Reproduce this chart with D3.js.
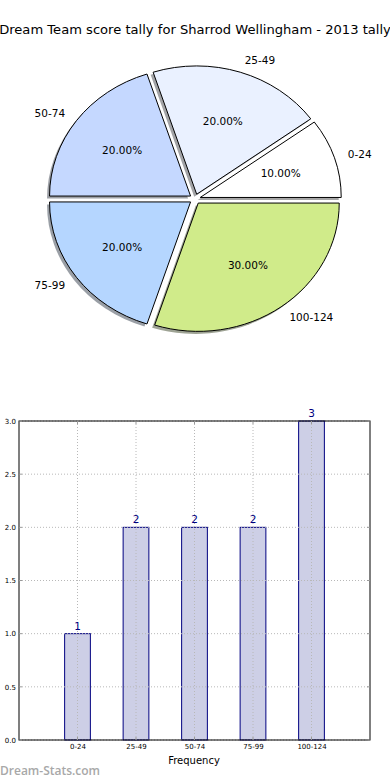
<!DOCTYPE html>
<html>
<head>
<meta charset="utf-8">
<script src="https://cdn.jsdelivr.net/npm/d3@7"></script>
<style>
html,body{margin:0;padding:0;background:#fff;}
svg{display:block;font-family:"DejaVu Sans",sans-serif;}
</style>
</head>
<body>
<svg id="c" width="390" height="780"></svg>
<script>
const categories = ["0-24","25-49","50-74","75-99","100-124"];
const counts = [1,2,2,2,3];
const pieColors = ["#ffffff","#eaf1ff","#c5d8ff","#b5d6ff","#d0eb8a"];
const yTicks = [0,0.5,1,1.5,2,2.5,3];
const titleText = "Dream Team score tally for Sharrod Wellingham - 2013 tally";

const svg = d3.select("#c");

svg.append("text").attr("x",195).attr("y",34).attr("text-anchor","middle")
  .attr("font-size",13.1).attr("fill","#000").text(titleText);

// ---- Pie ----
const cx = 195, cy = 199, R = 141, sy = 0.91, ex = 5.5;
const total = d3.sum(counts);
let cum = 0;
const wedges = counts.map((v,i)=>{
  const t1 = cum/total*2*Math.PI; cum += v; const t2 = cum/total*2*Math.PI;
  return {i, v, t1, t2, tm:(t1+t2)/2};
});
const arc = d3.arc().innerRadius(0).outerRadius(R);
const pg = svg.append("g").attr("transform",`translate(${cx},${cy}) scale(1,${sy})`);
// shadows
wedges.forEach(w=>{
  const dx = ex*Math.cos(w.tm), dy = -ex*Math.sin(w.tm);
  const c = d3.rgb(pieColors[w.i]);
  pg.append("path")
    .attr("d", arc({startAngle:Math.PI/2-w.t2, endAngle:Math.PI/2-w.t1}))
    .attr("transform",`translate(${dx-2.5},${dy+2.8})`)
    .attr("fill", d3.rgb(c.r*0.3,c.g*0.3,c.b*0.3)).attr("fill-opacity",0.5);
});
wedges.forEach(w=>{
  const dx = ex*Math.cos(w.tm), dy = -ex*Math.sin(w.tm);
  pg.append("path")
    .attr("d", arc({startAngle:Math.PI/2-w.t2, endAngle:Math.PI/2-w.t1}))
    .attr("transform",`translate(${dx},${dy})`)
    .attr("fill", pieColors[w.i]).attr("stroke","#000").attr("stroke-width",1)
    .attr("vector-effect","non-scaling-stroke");
});
// labels
wedges.forEach(w=>{
  const dx = ex*Math.cos(w.tm), dy = -ex*Math.sin(w.tm);
  const lx = cx + dx + 1.1*R*Math.cos(w.tm);
  const ly = cy + (dy - 1.1*R*Math.sin(w.tm))*sy;
  svg.append("text").attr("x",lx).attr("y",ly).attr("dy","0.35em")
    .attr("text-anchor", Math.cos(w.tm)>0 ? "start":"end")
    .attr("font-size",10.5).attr("fill","#000").text(categories[w.i]);
  const px = cx + dx + 0.6*R*Math.cos(w.tm);
  const py = cy + (dy - 0.6*R*Math.sin(w.tm))*sy;
  svg.append("text").attr("x",px).attr("y",py).attr("dy","0.35em")
    .attr("text-anchor","middle").attr("font-size",10.5).attr("fill","#000")
    .text((w.v/total*100).toFixed(2)+"%");
});

// ---- Bar chart ----
const L=19, Rr=370, T=421, B=740;
const x = d3.scaleLinear().domain([-1,5]).range([L,Rr]);
const y = d3.scaleLinear().domain([0,3]).range([B,T]);
const bw = x(0.44)-x(0);
const bg = svg.append("g");

// bars
bg.selectAll("rect.bar").data(counts).enter().append("rect")
  .attr("x",(d,i)=>x(i)-bw/2).attr("y",d=>y(d))
  .attr("width",bw).attr("height",d=>y(0)-y(d))
  .attr("fill","#cdcfe6").attr("stroke","#000080").attr("stroke-width",1);

// grid
yTicks.forEach(t=>{
  bg.append("line").attr("x1",L).attr("x2",Rr).attr("y1",y(t)).attr("y2",y(t))
    .attr("stroke","#b8b8b8").attr("stroke-width",1).attr("stroke-dasharray","1,2");
});
categories.forEach((c,i)=>{
  bg.append("line").attr("x1",x(i)).attr("x2",x(i)).attr("y1",T).attr("y2",B)
    .attr("stroke","#b8b8b8").attr("stroke-width",1).attr("stroke-dasharray","1,2");
});

// frame
bg.append("rect").attr("x",L).attr("y",T).attr("width",Rr-L).attr("height",B-T)
  .attr("fill","none").attr("stroke","#000").attr("stroke-width",1);

// ticks inside
yTicks.forEach(t=>{
  bg.append("line").attr("x1",L).attr("x2",L+3).attr("y1",y(t)).attr("y2",y(t)).attr("stroke","#999");
  bg.append("line").attr("x1",Rr-3).attr("x2",Rr).attr("y1",y(t)).attr("y2",y(t)).attr("stroke","#999");
});
categories.forEach((c,i)=>{
  bg.append("line").attr("x1",x(i)).attr("x2",x(i)).attr("y1",T).attr("y2",T+3).attr("stroke","#999");
  bg.append("line").attr("x1",x(i)).attr("x2",x(i)).attr("y1",B-3).attr("y2",B).attr("stroke","#999");
});

// axis labels via d3 axes
const ya = svg.append("g").attr("transform",`translate(${L},0)`)
  .call(d3.axisLeft(y).tickValues(yTicks).tickFormat(d3.format(".1f")).tickSize(0).tickPadding(3));
ya.select(".domain").remove();
ya.selectAll("text").attr("font-size",7).attr("font-family","DejaVu Sans").attr("fill","#000");

const xa = svg.append("g").attr("transform",`translate(0,${B})`)
  .call(d3.axisBottom(x).tickValues(d3.range(categories.length)).tickFormat(i=>categories[i]).tickSize(0).tickPadding(4));
xa.select(".domain").remove();
xa.selectAll("text").attr("font-size",7).attr("font-family","DejaVu Sans").attr("fill","#000");

// value labels
bg.selectAll("text.val").data(counts).enter().append("text")
  .attr("x",(d,i)=>x(i)).attr("y",d=>y(d)-4).attr("text-anchor","middle")
  .attr("font-size",10.5).attr("fill","#000080").text(d=>d);

svg.append("text").attr("x",194).attr("y",764).attr("text-anchor","middle")
  .attr("font-size",10).attr("fill","#000").text("Frequency");

svg.append("text").attr("x",0).attr("y",775).attr("font-size",12)
  .attr("font-weight","600").attr("fill","#a8a8a8").attr("font-family","'Open Sans',sans-serif")
  .text("Dream-Stats.com");
</script>
</body>
</html>
